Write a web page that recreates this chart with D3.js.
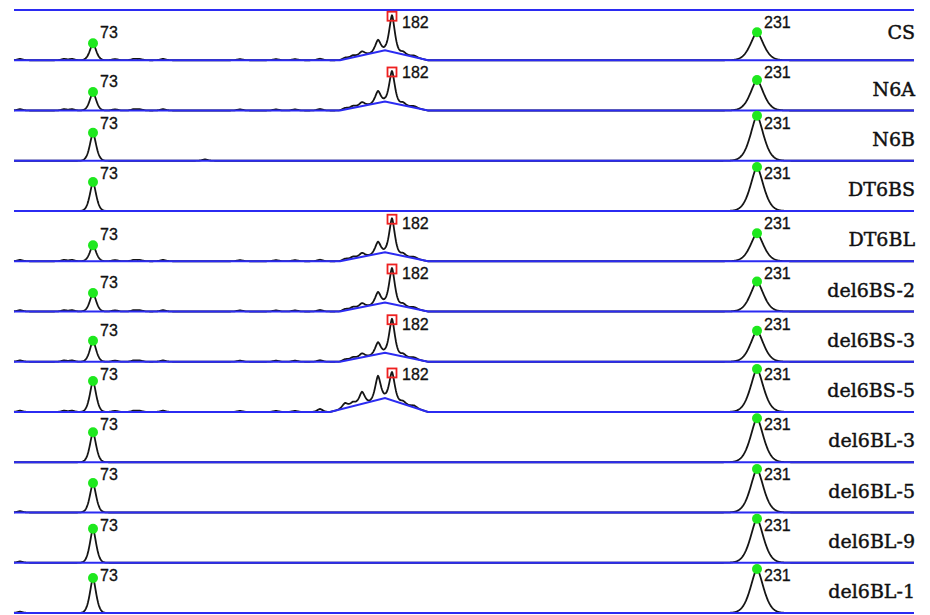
<!DOCTYPE html>
<html>
<head>
<meta charset="utf-8">
<script src="https://cdn.jsdelivr.net/npm/d3@7"></script>
<style>
  body { margin: 0; background: #fff; }
  .sample-label { font-family: "DejaVu Serif", serif; font-size: 19px; fill: #111; stroke: #111; stroke-width: 0.45px; }
  .peak-label { font-family: "Liberation Sans", Arial, sans-serif; font-size: 16px; fill: #111; stroke: #111; stroke-width: 0.3px; }
</style>
</head>
<body>
<div id="chart"></div>
<script>
// Sample names, one trace per row (top to bottom)
const samples = ["CS", "N6A", "N6B", "DT6BS", "DT6BL", "del6BS-2", "del6BS-3",
                 "del6BS-5", "del6BL-3", "del6BL-5", "del6BL-9", "del6BL-1"];

// Fragment sizes and their migration position (scan units)
const fragments = [73, 182, 231];
const fragmentPos = [79, 378, 743];

// Peak heights (signal) read per row; 0 = no peak
const peak73 = [17, 18.5, 28, 29, 16, 18.5, 21, 31, 30, 29.5, 34, 35];
const peak182 = [45, 39.5, 0, 0, 43, 43.5, 43, 40, 0, 0, 0, 0];
const peak231 = [28, 30.5, 45, 44, 28, 30, 31, 43, 44, 43.5, 44, 44];

// Raised baseline under the 182 cluster: start, apex, end (scan) and height
const humpStart = [326, 326, 0, 0, 326, 326, 326, 316, 0, 0, 0, 0];
const humpApex = 371;
const humpEnd = 414;
const humpHeight = [10, 9, 0, 0, 9, 9, 9, 14, 0, 0, 0, 0];

// Stutter / shoulder peaks around 182
const shoulderPos = [306, 331, 339, 348, 364, 389, 400];
const shoulderA = [1.5, 1.5, 2, 4, 12, 3, 1.5];
const shoulderB = [3, 5, 4, 12, 24, 3, 2];
const shoulders = [shoulderA, shoulderA, null, null, shoulderA, shoulderA, shoulderA,
                   shoulderB, null, null, null, null];

// Small baseline noise blips [scan, height]
const noiseA = [[6, 1.3], [50, 1.3], [58, 1.3], [101, 1.2], [120, 1.3], [126, 1.1], [149, 1.3], [226, 1.1], [262, 1.1], [281, 1.1]];
const noiseB = [[191, 1.3]];
const noiseC = [[6, 1.3]];
const noise = [noiseA, noiseA, noiseB, [], noiseA, noiseA, noiseA, noiseA, [], noiseC, noiseC, noiseC];

const width = 930, height = 615;
const svg = d3.select("#chart").append("svg")
    .attr("width", width)
    .attr("height", height);

// Scales
const x = d3.scaleLinear().domain([0, 900]).range([14, 914]);
const rowY = d3.scaleLinear().domain([0, samples.length]).range([10, 613]);
const sig = d3.scaleLinear().domain([0, 50]).range([0, 50]);

// Peak profile: sharp apex, flaring foot
function profile(dx, h, w) {
    return h * Math.exp(-Math.pow(Math.abs(dx) / w, 1.6));
}

function hump(i, s) {
    const h = humpHeight[i];
    if (!h) return 0;
    const a = humpStart[i];
    if (s <= a || s >= humpEnd) return 0;
    if (s <= humpApex) return h * (s - a) / (humpApex - a);
    return h * (humpEnd - s) / (humpEnd - humpApex);
}

function peaksFor(i) {
    const list = [];
    list.push({ pos: fragmentPos[0], h: peak73[i], w: 4.5, size: fragments[0] });
    if (peak182[i]) {
        list.push({ pos: fragmentPos[1], h: peak182[i] - hump(i, fragmentPos[1]), w: 4, size: fragments[1] });
    }
    list.push({ pos: fragmentPos[2], h: peak231[i], w: 9.5, size: fragments[2] });
    const sh = shoulders[i];
    if (sh) sh.forEach((h, k) => list.push({ pos: shoulderPos[k], h: h, w: 4 }));
    noise[i].forEach(n => list.push({ pos: n[0], h: n[1], w: 4 }));
    return list;
}

const scans = d3.range(0, 900.01, 0.5);

// Row separator / baseline at the very top
svg.append("line")
    .attr("x1", x(0)).attr("x2", x(900))
    .attr("y1", rowY(0)).attr("y2", rowY(0))
    .attr("stroke", "#2b2bf2")
    .attr("stroke-width", 2);

samples.forEach((name, i) => {
    const base = rowY(i + 1);
    const top = rowY(i);
    const y = v => base - sig(v);
    const peaks = peaksFor(i);
    const signal = s => hump(i, s) + d3.sum(peaks, p => profile(s - p.pos, p.h, p.w));

    const g = svg.append("g").attr("class", "row");

    // Trace
    g.append("path")
        .datum(scans)
        .attr("fill", "none")
        .attr("stroke", "#151515")
        .attr("stroke-width", 1.8)
        .attr("stroke-linejoin", "round")
        .attr("d", d3.line().x(s => x(s)).y(s => y(signal(s))));

    // Baseline (blue)
    const basePts = humpHeight[i]
        ? [[0, 0], [humpStart[i], 0], [humpApex, humpHeight[i]], [humpEnd, 0], [900, 0]]
        : [[0, 0], [900, 0]];
    g.append("path")
        .datum(basePts)
        .attr("fill", "none")
        .attr("stroke", "#2b2bf2")
        .attr("stroke-width", 2)
        .attr("d", d3.line().x(d => x(d[0])).y(d => y(d[1])));

    // Called peaks
    peaks.filter(p => p.size).forEach(p => {
        const py = y(signal(p.pos));
        if (p.size === 182) {
            g.append("rect")
                .attr("x", x(p.pos) - 4.5).attr("y", py - 3.5)
                .attr("width", 9).attr("height", 9)
                .attr("fill", "none")
                .attr("stroke", "#ee2020")
                .attr("stroke-width", 1.8);
        } else {
            g.append("circle")
                .attr("cx", x(p.pos)).attr("cy", py)
                .attr("r", 5)
                .attr("fill", "#1ee81e");
        }
        g.append("text")
            .attr("class", "peak-label")
            .attr("x", x(p.pos) + (p.size === 182 ? 10 : 7))
            .attr("y", Math.max(py - 5, top + 18))
            .text(p.size);
    });

    // Sample name
    g.append("text")
        .attr("class", "sample-label")
        .attr("x", 915)
        .attr("y", base - (i === 0 ? 21 : 15))
        .attr("text-anchor", "end")
        .text(name);
});
</script>
</body>
</html>
